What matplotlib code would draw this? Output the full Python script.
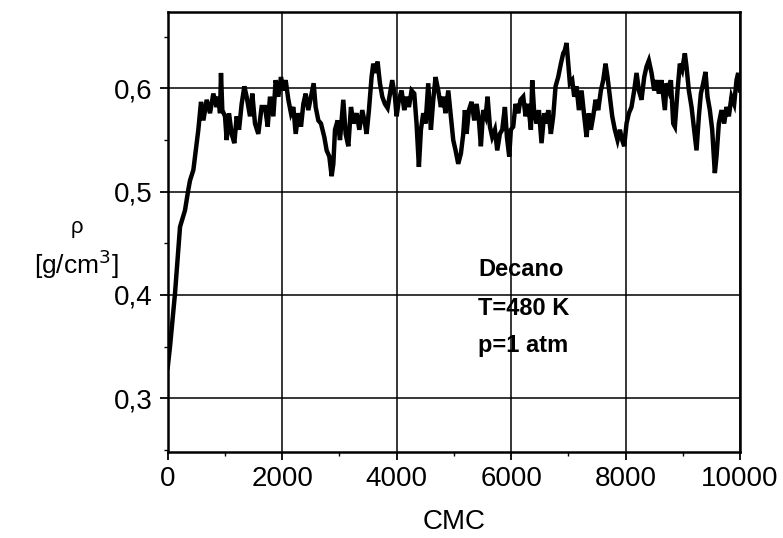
import matplotlib
matplotlib.use("Agg")
import matplotlib.pyplot as plt
from matplotlib.ticker import MultipleLocator, FuncFormatter

plt.rcParams['font.family'] = ['Liberation Sans', 'DejaVu Sans']

cmc = [0, 40, 128, 215, 302, 360, 390, 448, 535, 582, 623, 681, 739, 797, 855, 885, 914, 931, 954,
       1001, 1030, 1071, 1117, 1164, 1205, 1246, 1292, 1339, 1379, 1438, 1478, 1525, 1583, 1641,
       1700, 1747, 1787, 1846, 1886, 1933, 1979, 2020, 2061, 2108, 2154, 2195, 2236, 2282, 2329,
       2370, 2410, 2457, 2503, 2550, 2585, 2632, 2678, 2736, 2777, 2824, 2864, 2894, 2923, 2969,
       3010, 3068, 3109, 3156, 3202, 3249, 3301, 3348, 3400,
       3446, 3475, 3516, 3562, 3592, 3632, 3667, 3708, 3749, 3795, 3842, 3883, 3923, 3970, 3999,
       4040, 4086, 4133, 4174, 4215, 4261, 4308, 4348, 4389, 4424, 4465, 4506, 4552, 4599, 4640,
       4680, 4727, 4773, 4814, 4855, 4902, 4948, 4989, 5030, 5076, 5123, 5164,
       5193, 5222, 5263, 5309, 5356, 5397, 5438, 5472, 5513, 5554, 5589, 5630, 5670, 5717, 5758,
       5804, 5845, 5892, 5927, 5967, 5996, 6037, 6078, 6125, 6165, 6212, 6253, 6299, 6346, 6369,
       6404, 6445, 6486, 6532, 6579, 6619, 6649, 6695, 6736, 6777, 6823, 6870, 6911,
       6940, 6969, 6998, 7027, 7068, 7103, 7144, 7185, 7231, 7278, 7318, 7359, 7394, 7435, 7476,
       7522, 7569, 7610, 7650, 7685, 7726, 7767, 7813, 7860, 7901, 7941, 7976, 8017, 8058, 8104,
       8151, 8192, 8233, 8279, 8326, 8366, 8407, 8454, 8500, 8541, 8582, 8628,
       8687, 8716, 8757, 8792, 8833, 8862, 8908, 8949, 8990, 9036, 9065, 9106, 9153, 9199, 9240,
       9281, 9316, 9357, 9397, 9432, 9473, 9514, 9560, 9589, 9630, 9677, 9723, 9764, 9805, 9851,
       9898, 9939, 9968, 10000]

rho = [0.330, 0.350, 0.402, 0.466, 0.482, 0.502, 0.511, 0.521, 0.560, 0.587, 0.569, 0.589, 0.576,
       0.595, 0.582, 0.592, 0.576, 0.615, 0.579,
       0.573, 0.550, 0.576, 0.556, 0.547, 0.573, 0.560, 0.585, 0.602, 0.592, 0.573, 0.595, 0.566,
       0.556, 0.582,
       0.582, 0.563, 0.592, 0.573, 0.608, 0.592, 0.611, 0.598, 0.608, 0.589, 0.576, 0.582, 0.556,
       0.576, 0.563, 0.585, 0.595, 0.579, 0.592, 0.605, 0.582, 0.569, 0.566, 0.553, 0.540, 0.534,
       0.515, 0.527, 0.560, 0.569, 0.550, 0.589, 0.556, 0.544, 0.582, 0.566, 0.576, 0.560, 0.579,
       0.566, 0.556, 0.579, 0.611, 0.624, 0.615, 0.626, 0.605, 0.592, 0.585, 0.581, 0.595, 0.608,
       0.592, 0.573, 0.589, 0.598, 0.579, 0.592, 0.582, 0.598, 0.595, 0.566, 0.524, 0.560, 0.576,
       0.566, 0.605, 0.560, 0.589, 0.611, 0.598, 0.582, 0.592, 0.576, 0.598, 0.573, 0.550, 0.540,
       0.527, 0.537, 0.556,
       0.579, 0.556, 0.579, 0.587, 0.569, 0.585, 0.569, 0.544, 0.579, 0.573, 0.592, 0.563, 0.553,
       0.560, 0.540, 0.556, 0.560, 0.582, 0.553, 0.534, 0.560, 0.563, 0.585, 0.576, 0.589, 0.592,
       0.573, 0.585, 0.560, 0.608, 0.576, 0.566, 0.579, 0.547, 0.576, 0.566, 0.579, 0.556, 0.573,
       0.602, 0.611, 0.624, 0.634,
       0.637, 0.644, 0.624, 0.605, 0.608, 0.592, 0.602, 0.579, 0.598, 0.573, 0.553, 0.576, 0.560,
       0.573, 0.589, 0.579, 0.598, 0.608, 0.624, 0.611, 0.592, 0.573, 0.560, 0.550, 0.560, 0.550,
       0.544, 0.566, 0.576, 0.582, 0.598, 0.615, 0.598, 0.589, 0.611, 0.621, 0.627, 0.615, 0.598,
       0.608, 0.595, 0.608,
       0.579, 0.605, 0.598, 0.608, 0.566, 0.563, 0.598, 0.624, 0.618, 0.634, 0.621, 0.598, 0.582,
       0.560, 0.540, 0.573, 0.595, 0.605, 0.616, 0.592, 0.579, 0.560, 0.518, 0.534, 0.566, 0.579,
       0.566, 0.582, 0.573, 0.592, 0.585, 0.608, 0.615, 0.598]

x_ticks = [0, 2000, 4000, 6000, 8000, 10000]
y_ticks = [0.3, 0.4, 0.5, 0.6]
annotation_lines = ["Decano", "T=480 K", "p=1 atm"]

fig = plt.figure(figsize=(7.83, 5.38), dpi=100)
ax = fig.add_axes([0.2142, 0.1599, 0.7309, 0.8178])

ax.plot(cmc, rho, color='black', linewidth=3.2, solid_joinstyle='miter')

ax.set_xlim(0, 10000)
ax.set_ylim(0.248, 0.674)
ax.set_xticks(x_ticks)
ax.set_yticks(y_ticks)
ax.xaxis.set_minor_locator(MultipleLocator(1000))
ax.yaxis.set_minor_locator(MultipleLocator(0.05))
ax.yaxis.set_major_formatter(FuncFormatter(lambda v, p: f"{v:.1f}".replace('.', ',')))
ax.grid(True, which='major', color='black', linewidth=1.1)
ax.set_axisbelow(True)
for s in ax.spines.values():
    s.set_linewidth(1.8)
ax.tick_params(which='major', direction='out', length=6, width=1.3, labelsize=20, pad=4)
ax.tick_params(axis='y', which='major', pad=5)
ax.tick_params(which='minor', direction='out', length=3, width=1.0)

ax.set_xlabel("CMC", fontsize=20, labelpad=12)

fig.text(0.098, 1 - 228 / 538, "ρ", ha='center', va='center', fontsize=16)
fig.text(0.098, 1 - 264 / 538, "[g/cm$^3$]", ha='center', va='center', fontsize=19)

ys = [0.414, 0.327, 0.243]
for t, yy in zip(annotation_lines, ys):
    ax.text(0.542, yy, t, transform=ax.transAxes, ha='left', va='center',
            fontsize=17, fontweight='bold')

fig.savefig("out.png", dpi=100)
